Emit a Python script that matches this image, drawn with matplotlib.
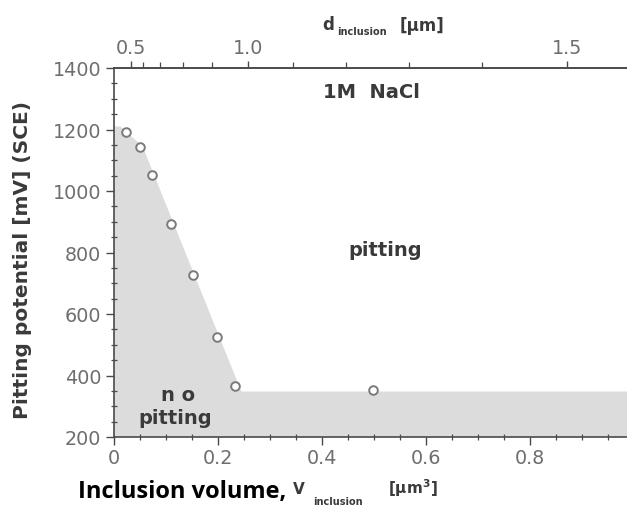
import numpy as np
import matplotlib
matplotlib.use("Agg")
import matplotlib.pyplot as plt
from matplotlib.ticker import FixedLocator, MultipleLocator
from matplotlib.patches import Polygon

# Measured pitting potentials vs. inclusion volume
volume = [0.024, 0.050, 0.074, 0.109, 0.151, 0.199, 0.233, 0.498]
potential = [1193, 1142, 1051, 893, 727, 526, 367, 354]

# Boundary of the "no pitting" region
boundary_v = [0.0, 0.0, 0.012, 0.055, 0.245, 1.10, 1.10]
boundary_p = [200, 1210, 1210, 1145, 348, 348, 200]

x_ticks = [0, 0.2, 0.4, 0.6, 0.8, 1.0]
x_ticklabels = ["0", "0.2", "0.4", "0.6", "0.8", "1"]
y_ticks = [200, 400, 600, 800, 1000, 1200, 1400]
d_major = [0.5, 1.0, 1.5]
d_major_labels = ["0.5", "1.0", "1.5"]
d_minor = [0.6, 0.7, 0.8, 0.9, 1.1, 1.2, 1.3, 1.4]

K_SHAPE = 0.258  # V = K * d^3


def v_to_d(v):
    return np.cbrt(np.asarray(v, dtype=float) / K_SHAPE)


def d_to_v(d):
    return K_SHAPE * np.asarray(d, dtype=float) ** 3


plt.rcParams["mathtext.default"] = "regular"

W, H = 627, 510
fig = plt.figure(figsize=(W / 100, H / 100), dpi=100)
fig.patch.set_facecolor("white")

spine_c = "#4a4a4a"
tick_c = "#6e6e6e"
text_c = "#3a3a3a"
tick_fs = 13.8

ax = fig.add_axes([114 / W, 1 - 438 / H, 520 / W, (438 - 69) / H])
ax.set_xlim(0, 1.0)
ax.set_ylim(200, 1400)

ax.add_patch(Polygon(np.column_stack([boundary_v, boundary_p]), closed=True,
                     facecolor="#dcdcdc", edgecolor="none", zorder=1))

ax.plot(volume, potential, linestyle="none", marker="o", ms=6.2,
        mfc="white", mec="#7a7a7a", mew=1.4, zorder=3)

for s in ax.spines.values():
    s.set_color(spine_c)
    s.set_linewidth(1.2)
ax.spines["right"].set_visible(False)

ax.set_xticks(x_ticks)
ax.set_xticklabels(x_ticklabels)
ax.xaxis.set_minor_locator(MultipleLocator(0.05))
ax.set_yticks(y_ticks)
ax.yaxis.set_minor_locator(MultipleLocator(50))
ax.tick_params(which="major", direction="out", length=6, width=1.0,
               color=spine_c, labelcolor=tick_c, labelsize=tick_fs, pad=2)
ax.tick_params(which="minor", direction="inout", length=4, width=0.9,
               color=spine_c)
ax.tick_params(axis="y", which="major", pad=3)
ax.tick_params(top=False, right=False, which="both")

# Top axis: inclusion diameter
sec = ax.secondary_xaxis("top", functions=(v_to_d, d_to_v))
sec.xaxis.set_major_locator(FixedLocator(d_major))
sec.set_xticklabels(d_major_labels)
sec.xaxis.set_minor_locator(FixedLocator(d_minor))
sec.spines["top"].set_color(spine_c)
sec.spines["top"].set_linewidth(1.2)
sec.tick_params(which="major", direction="out", length=5, width=1.0,
                color=spine_c, labelcolor=tick_c, labelsize=tick_fs, pad=3)
sec.tick_params(which="minor", direction="out", length=4, width=0.9,
                color=spine_c)

# Region labels
bold = dict(fontweight="bold", color=text_c, family="DejaVu Sans")
ax.text(0.496, 1322, "1M  NaCl", ha="center", va="center", fontsize=14, **bold)
ax.text(0.521, 811, "pitting", ha="center", va="center", fontsize=14, **bold)
ax.text(0.123, 337, "n o", ha="center", va="center", fontsize=14, **bold)
ax.text(0.117, 262, "pitting", ha="center", va="center", fontsize=14, **bold)

# Axis titles
fig.text(23 / W, 1 - 260 / H, "Pitting potential [mV] (SCE)", rotation=90,
         ha="center", va="center", fontsize=14.5, **bold)

fig.text(322 / W, 1 - 30 / H, "d", ha="left", va="baseline",
         fontsize=12, **bold)
fig.text(337 / W, 1 - 35 / H, "inclusion", ha="left", va="baseline",
         fontsize=7, **bold)
fig.text(400 / W, 1 - 31 / H, "[µm]", ha="left", va="baseline",
         fontsize=12, **bold)

fig.text(78 / W, 1 - 498 / H, "Inclusion volume,", ha="left", va="baseline",
         fontsize=17, fontweight="bold", family="Open Sans", color="black")
fig.text(293 / W, 1 - 494 / H, "V", ha="left", va="baseline",
         fontsize=11, **bold)
fig.text(313 / W, 1 - 505 / H, "inclusion", ha="left", va="baseline",
         fontsize=7, **bold)
fig.text(388 / W, 1 - 494 / H, "[µm$^3$]", ha="left", va="baseline",
         fontsize=11, **bold)

fig.savefig("out.png", dpi=100)
